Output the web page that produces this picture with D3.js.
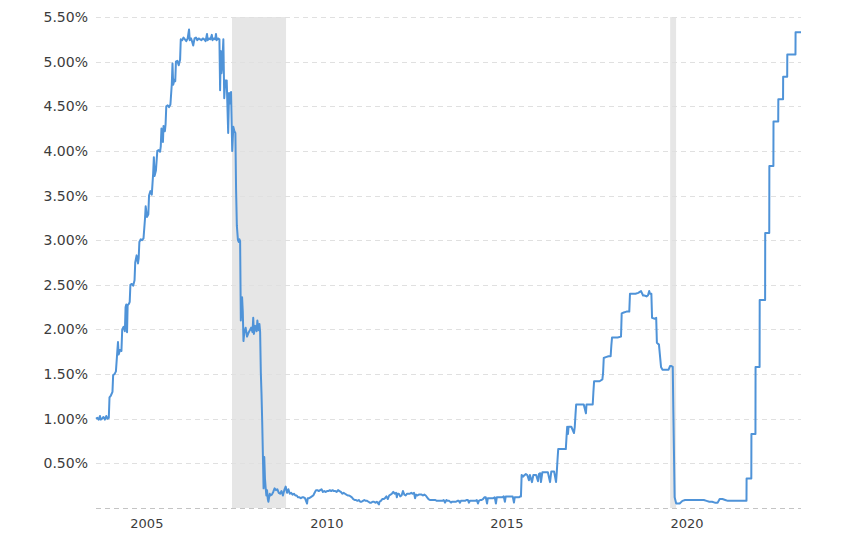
<!DOCTYPE html>
<html lang="en">
<head>
<meta charset="UTF-8">
<title>Federal Funds Rate - 20 Year Chart</title>
<script src="https://d3js.org/d3.v7.min.js"></script>
<style>
  body { margin: 0; background: #fff; }
  svg { display: block; font-family: "DejaVu Sans", Verdana, sans-serif; }
  .grid line { stroke: #e0e0e0; stroke-width: 1; stroke-dasharray: 5,4; }
  .grid line.zero { stroke: #c4c4c4; }
  .axis text { fill: #3c3c3c; }
  .recession { fill: #e6e6e6; }
  .rate-line { fill: none; stroke: #4f93d8; stroke-width: 2; stroke-linejoin: round; }
</style>
</head>
<body>
<svg id="chart" width="850" height="536"></svg>
<script>
// effective fed funds rate (%), split by era
const rates2004to2008 = [
  ["2004-02-20",1.00],["2004-03-04",1.01],["2004-03-18",0.99],["2004-03-31",1.03],["2004-04-08",0.99],
  ["2004-04-22",1.00],["2004-05-06",1.02],["2004-05-20",0.99],["2004-06-03",1.03],["2004-06-17",1.00],
  ["2004-06-29",1.01],["2004-07-06",1.24],["2004-07-20",1.26],["2004-08-05",1.30],["2004-08-12",1.49],
  ["2004-08-26",1.50],["2004-09-09",1.53],["2004-09-23",1.75],["2004-09-30",1.86],["2004-10-07",1.72],
  ["2004-10-21",1.77],["2004-11-04",1.76],["2004-11-12",2.00],["2004-11-26",2.03],["2004-12-09",1.98],
  ["2004-12-16",2.25],["2004-12-23",2.28],["2004-12-31",1.97],["2005-01-06",2.27],["2005-01-20",2.29],
  ["2005-01-27",2.31],["2005-02-03",2.50],["2005-02-17",2.51],["2005-03-03",2.49],["2005-03-17",2.55],
  ["2005-03-24",2.75],["2005-04-07",2.83],["2005-04-21",2.74],["2005-04-28",2.80],["2005-05-05",2.98],
  ["2005-05-19",3.01],["2005-06-02",3.00],["2005-06-16",3.02],["2005-07-01",3.24],["2005-07-08",3.38],
  ["2005-07-21",3.26],["2005-08-04",3.29],["2005-08-11",3.50],["2005-08-25",3.55],["2005-09-08",3.51],
  ["2005-09-22",3.75],["2005-09-29",3.93],["2005-10-06",3.72],["2005-10-20",3.78],["2005-11-03",4.00],
  ["2005-11-17",4.01],["2005-12-01",3.99],["2005-12-08",4.05],["2005-12-15",4.25],["2005-12-30",4.10],
  ["2006-01-05",4.28],["2006-01-19",4.22],["2006-01-26",4.30],["2006-02-02",4.50],["2006-02-16",4.51],
  ["2006-03-02",4.49],["2006-03-16",4.52],["2006-03-30",4.75],["2006-04-06",4.98],["2006-04-13",4.74],
  ["2006-04-27",4.80],["2006-05-04",4.78],["2006-05-11",5.00],["2006-05-25",5.01],["2006-06-08",4.96],
  ["2006-06-22",5.02],["2006-06-29",5.25],["2006-07-13",5.24],["2006-07-27",5.27],["2006-08-10",5.25],
  ["2006-08-24",5.23],["2006-09-07",5.26],["2006-09-21",5.36],["2006-09-28",5.24],["2006-10-12",5.26],
  ["2006-10-26",5.21],["2006-11-02",5.18],["2006-11-16",5.26],["2006-11-30",5.27],["2006-12-14",5.24],
  ["2006-12-28",5.26],["2007-01-11",5.25],["2007-01-25",5.24],["2007-02-08",5.26],["2007-02-22",5.25],
  ["2007-03-08",5.23],["2007-03-22",5.31],["2007-03-29",5.24],["2007-04-12",5.26],["2007-04-26",5.25],
  ["2007-05-10",5.30],["2007-05-17",5.24],["2007-05-31",5.26],["2007-06-14",5.25],["2007-06-21",5.31],
  ["2007-06-28",5.24],["2007-07-12",5.26],["2007-07-26",5.25],["2007-08-02",4.68],["2007-08-09",5.12],
  ["2007-08-16",4.87],["2007-08-23",4.95],["2007-09-04",5.25],["2007-09-13",4.59],["2007-09-24",4.79],
  ["2007-10-08",4.79],["2007-10-23",4.20],["2007-11-01",4.65],["2007-11-10",4.53],["2007-11-21",4.66],
  ["2007-12-03",4.00],["2007-12-14",4.27],["2007-12-25",4.22],["2008-01-04",4.20],["2008-01-11",3.57],
  ["2008-01-19",3.16],["2008-01-30",3.00],["2008-02-07",2.98],["2008-02-14",3.01],["2008-02-21",2.99],
  ["2008-02-28",2.10],["2008-03-05",2.28],["2008-03-12",2.36],["2008-03-19",2.20],["2008-03-26",1.87],
  ["2008-04-03",1.96],["2008-04-17",2.02],["2008-05-01",1.92],["2008-05-15",1.96],["2008-05-29",1.99],
  ["2008-06-12",2.02],["2008-06-26",1.97],["2008-07-03",2.13],["2008-07-10",1.95],["2008-07-24",2.04],
  ["2008-07-31",2.02],["2008-08-07",1.98],["2008-08-14",2.10],["2008-08-21",2.02],["2008-08-28",1.99],
  ["2008-09-04",2.06],["2008-09-11",1.97],["2008-09-18",1.52],["2008-09-25",1.28],["2008-10-02",0.97],
  ["2008-10-09",0.60],["2008-10-16",0.22],["2008-10-23",0.57],["2008-10-30",0.33],["2008-11-06",0.23],
  ["2008-11-13",0.14],["2008-11-20",0.20],["2008-11-28",0.10],["2008-12-04",0.07],["2008-12-11",0.12],
  ["2008-12-18",0.16],["2008-12-24",0.14]
];

const rates2009to2015 = [
  ["2009-01-08",0.15],["2009-01-22",0.18],["2009-02-05",0.22],["2009-02-19",0.20],["2009-03-05",0.21],
  ["2009-03-19",0.17],["2009-04-02",0.16],["2009-04-16",0.19],["2009-04-30",0.14],["2009-05-14",0.20],
  ["2009-05-28",0.24],["2009-06-11",0.17],["2009-06-25",0.21],["2009-07-09",0.16],["2009-07-23",0.17],
  ["2009-08-06",0.15],["2009-08-20",0.16],["2009-09-03",0.14],["2009-09-17",0.14],["2009-10-01",0.12],
  ["2009-10-15",0.12],["2009-10-29",0.11],["2009-11-12",0.12],["2009-11-26",0.12],["2009-12-10",0.11],
  ["2009-12-31",0.05],["2010-01-07",0.11],["2010-01-21",0.11],["2010-02-04",0.12],["2010-02-18",0.13],
  ["2010-03-04",0.14],["2010-03-18",0.17],["2010-04-01",0.20],["2010-04-15",0.20],["2010-04-29",0.19],
  ["2010-05-13",0.20],["2010-05-27",0.21],["2010-06-10",0.18],["2010-06-24",0.19],["2010-07-08",0.18],
  ["2010-07-22",0.19],["2010-08-05",0.19],["2010-08-19",0.20],["2010-09-02",0.19],["2010-09-16",0.20],
  ["2010-09-30",0.19],["2010-10-14",0.19],["2010-10-28",0.18],["2010-11-11",0.20],["2010-11-25",0.19],
  ["2010-12-09",0.18],["2010-12-23",0.16],["2011-01-06",0.17],["2011-01-20",0.16],["2011-02-03",0.15],
  ["2011-02-17",0.14],["2011-03-03",0.14],["2011-03-17",0.13],["2011-03-31",0.12],["2011-04-14",0.10],
  ["2011-04-28",0.09],["2011-05-12",0.09],["2011-05-26",0.08],["2011-06-09",0.09],["2011-06-23",0.07],
  ["2011-07-07",0.07],["2011-07-21",0.08],["2011-08-04",0.09],["2011-08-18",0.08],["2011-09-01",0.08],
  ["2011-09-15",0.07],["2011-09-29",0.06],["2011-10-13",0.06],["2011-10-27",0.07],["2011-11-10",0.07],
  ["2011-11-24",0.06],["2011-12-08",0.07],["2011-12-30",0.04],["2012-01-05",0.07],["2012-01-19",0.08],
  ["2012-02-02",0.10],["2012-02-16",0.10],["2012-03-01",0.11],["2012-03-15",0.13],["2012-03-29",0.10],
  ["2012-04-12",0.14],["2012-04-26",0.15],["2012-05-10",0.16],["2012-05-24",0.18],["2012-06-07",0.16],
  ["2012-06-21",0.17],["2012-06-29",0.12],["2012-07-05",0.16],["2012-07-19",0.16],["2012-08-02",0.13],
  ["2012-08-16",0.14],["2012-08-30",0.19],["2012-09-13",0.15],["2012-09-27",0.14],["2012-10-11",0.16],
  ["2012-10-25",0.16],["2012-11-08",0.16],["2012-11-22",0.17],["2012-12-06",0.16],["2012-12-20",0.17],
  ["2012-12-31",0.11],["2013-01-10",0.15],["2013-01-24",0.14],["2013-02-07",0.15],["2013-02-21",0.15],
  ["2013-03-07",0.15],["2013-03-21",0.14],["2013-04-04",0.15],["2013-04-18",0.14],["2013-05-02",0.12],
  ["2013-05-16",0.10],["2013-05-30",0.09],["2013-06-13",0.09],["2013-06-27",0.09],["2013-07-11",0.09],
  ["2013-07-25",0.09],["2013-08-08",0.08],["2013-08-22",0.08],["2013-09-05",0.08],["2013-09-19",0.08],
  ["2013-10-03",0.08],["2013-10-17",0.09],["2013-10-31",0.06],["2013-11-14",0.09],["2013-11-28",0.08],
  ["2013-12-12",0.08],["2013-12-31",0.06],["2014-01-09",0.07],["2014-01-23",0.07],["2014-02-06",0.07],
  ["2014-02-20",0.07],["2014-03-06",0.08],["2014-03-20",0.08],["2014-03-31",0.06],["2014-04-10",0.08],
  ["2014-04-24",0.08],["2014-05-08",0.08],["2014-05-22",0.08],["2014-06-05",0.09],["2014-06-19",0.09],
  ["2014-06-30",0.06],["2014-07-10",0.08],["2014-07-24",0.08],["2014-08-07",0.08],["2014-08-21",0.08],
  ["2014-09-04",0.08],["2014-09-18",0.09],["2014-09-30",0.05],["2014-10-09",0.08],["2014-10-23",0.09],
  ["2014-11-06",0.09],["2014-11-20",0.10],["2014-12-04",0.12],["2014-12-18",0.12],["2014-12-31",0.05],
  ["2015-01-08",0.11],["2015-01-22",0.11],["2015-02-05",0.11],["2015-02-19",0.11],["2015-03-05",0.11],
  ["2015-03-19",0.12],["2015-03-31",0.05],["2015-04-09",0.12],["2015-04-23",0.12],["2015-05-07",0.12],
  ["2015-05-21",0.12],["2015-06-04",0.12],["2015-06-18",0.13],["2015-06-30",0.07],["2015-07-09",0.13],
  ["2015-07-23",0.13],["2015-08-06",0.13],["2015-08-20",0.13],["2015-09-03",0.13],["2015-09-17",0.13],
  ["2015-09-30",0.06],["2015-10-08",0.12],["2015-10-22",0.12],["2015-11-05",0.12],["2015-11-19",0.12],
  ["2015-12-03",0.13],["2015-12-10",0.13]
];

const rates2016to2023 = [
  ["2015-12-17",0.37],["2015-12-31",0.35],["2016-01-07",0.36],["2016-01-29",0.38],["2016-02-12",0.37],
  ["2016-02-29",0.31],["2016-03-10",0.37],["2016-03-31",0.29],["2016-04-14",0.37],["2016-04-28",0.37],
  ["2016-05-12",0.37],["2016-05-31",0.30],["2016-06-09",0.38],["2016-06-23",0.39],["2016-06-30",0.29],
  ["2016-07-14",0.40],["2016-07-28",0.40],["2016-08-11",0.40],["2016-08-25",0.40],["2016-09-08",0.40],
  ["2016-09-30",0.29],["2016-10-13",0.41],["2016-10-27",0.41],["2016-11-10",0.41],["2016-11-30",0.29],
  ["2016-12-08",0.41],["2016-12-15",0.54],["2016-12-22",0.66],["2017-01-12",0.66],["2017-02-02",0.66],
  ["2017-02-23",0.66],["2017-03-09",0.66],["2017-03-16",0.79],["2017-03-23",0.91],["2017-03-31",0.83],
  ["2017-04-06",0.91],["2017-05-04",0.91],["2017-05-31",0.84],["2017-06-08",0.91],["2017-06-15",1.04],
  ["2017-06-22",1.16],["2017-07-13",1.16],["2017-08-10",1.16],["2017-09-07",1.16],["2017-09-29",1.06],
  ["2017-10-05",1.16],["2017-11-09",1.16],["2017-11-30",1.16],["2017-12-07",1.16],["2017-12-14",1.30],
  ["2017-12-21",1.42],["2018-01-11",1.42],["2018-02-15",1.42],["2018-03-15",1.44],["2018-03-22",1.51],
  ["2018-03-29",1.68],["2018-04-19",1.69],["2018-05-17",1.70],["2018-06-07",1.70],["2018-06-14",1.82],
  ["2018-06-21",1.91],["2018-07-19",1.91],["2018-08-16",1.91],["2018-09-20",1.92],["2018-09-27",2.18],
  ["2018-10-18",2.19],["2018-11-15",2.20],["2018-12-13",2.20],["2018-12-20",2.40],["2019-01-17",2.40],
  ["2019-02-14",2.40],["2019-03-14",2.41],["2019-04-11",2.43],["2019-05-02",2.38],["2019-05-16",2.38],
  ["2019-06-06",2.37],["2019-06-20",2.38],["2019-07-03",2.43],["2019-07-11",2.40],["2019-07-25",2.40],
  ["2019-08-01",2.13],["2019-08-29",2.12],["2019-09-12",2.13],["2019-09-19",1.85],["2019-10-10",1.83],
  ["2019-10-31",1.58],["2019-11-14",1.55],["2019-12-12",1.55],["2020-01-16",1.55],["2020-01-30",1.59],
  ["2020-02-13",1.59],["2020-02-27",1.58],["2020-03-04",1.09],["2020-03-17",0.12],["2020-04-02",0.05],
  ["2020-04-16",0.05],["2020-05-07",0.05],["2020-06-04",0.08],["2020-07-02",0.09],["2020-08-06",0.09],
  ["2020-09-03",0.09],["2020-10-01",0.09],["2020-11-05",0.09],["2020-12-03",0.09],["2021-01-07",0.09],
  ["2021-02-04",0.08],["2021-03-04",0.07],["2021-04-01",0.07],["2021-04-29",0.06],["2021-05-27",0.06],
  ["2021-06-17",0.10],["2021-07-15",0.10],["2021-08-12",0.09],["2021-09-09",0.08],["2021-10-07",0.08],
  ["2021-11-04",0.08],["2021-12-02",0.08],["2022-01-06",0.08],["2022-02-03",0.08],["2022-03-16",0.08],
  ["2022-03-17",0.33],["2022-05-04",0.33],["2022-05-05",0.83],["2022-06-15",0.83],["2022-06-16",1.58],
  ["2022-07-27",1.58],["2022-07-28",2.33],["2022-09-21",2.33],["2022-09-22",3.08],["2022-11-02",3.08],
  ["2022-11-03",3.83],["2022-12-14",3.83],["2022-12-15",4.33],["2023-02-01",4.33],["2023-02-02",4.58],
  ["2023-03-22",4.58],["2023-03-23",4.83],["2023-05-03",4.83],["2023-05-04",5.08],["2023-07-26",5.08],
  ["2023-07-27",5.33],["2023-09-20",5.33]
];

// recession periods (shaded)
const recessions = [
  ["2007-12-01", "2009-06-01"],
  ["2020-02-01", "2020-04-01"]
];

const yTickValues = [0, 0.5, 1, 1.5, 2, 2.5, 3, 3.5, 4, 4.5, 5, 5.5];
const xTickYears = [2005, 2010, 2015, 2020];

const width = 850, height = 536;
const margin = { top: 17, right: 49, bottom: 28, left: 96 };

const parse = d3.timeParse("%Y-%m-%d");
const data = rates2004to2008.concat(rates2009to2015, rates2016to2023)
  .map(d => ({ date: parse(d[0]), value: d[1] }));

const svg = d3.select("#chart");

const x = d3.scaleTime()
  .domain([parse("2004-02-20"), parse("2023-09-20")])
  .range([margin.left, width - margin.right]);

const y = d3.scaleLinear()
  .domain([0, 5.5])
  .range([height - margin.bottom, margin.top]);

// recession shading
svg.append("g")
  .selectAll("rect")
  .data(recessions)
  .join("rect")
  .attr("class", "recession")
  .attr("x", d => x(parse(d[0])))
  .attr("width", d => x(parse(d[1])) - x(parse(d[0])))
  .attr("y", y(5.5))
  .attr("height", y(0) - y(5.5));

// dashed horizontal grid
svg.append("g")
  .attr("class", "grid")
  .selectAll("line")
  .data(yTickValues)
  .join("line")
  .attr("class", d => d === 0 ? "zero" : null)
  .attr("x1", margin.left)
  .attr("x2", width - margin.right)
  .attr("y1", d => Math.round(y(d)) + 0.5)
  .attr("y2", d => Math.round(y(d)) + 0.5);

// y axis labels (0 has none)
const yAxis = svg.append("g")
  .attr("class", "axis")
  .attr("transform", `translate(${margin.left},0)`)
  .call(d3.axisLeft(y)
    .tickValues(yTickValues.filter(v => v > 0))
    .tickFormat(v => d3.format(".2f")(v) + "%")
    .tickSize(0)
    .tickPadding(8));
yAxis.select(".domain").remove();
yAxis.selectAll("text").attr("font-size", 14).attr("font-family", "DejaVu Sans, Verdana, sans-serif");

// x axis: year labels sit in the middle of the year
const xAxis = svg.append("g")
  .attr("class", "axis")
  .attr("transform", `translate(0,${height - margin.bottom})`)
  .call(d3.axisBottom(x)
    .tickValues(xTickYears.map(yr => new Date(yr, 6, 15)))
    .tickFormat(d3.timeFormat("%Y"))
    .tickSize(0)
    .tickPadding(11));
xAxis.select(".domain").remove();
xAxis.selectAll("text").attr("font-size", 13).attr("font-family", "DejaVu Sans, Verdana, sans-serif");

// rate line
const line = d3.line()
  .x(d => x(d.date))
  .y(d => y(d.value));

svg.append("path")
  .datum(data)
  .attr("class", "rate-line")
  .attr("d", line);
</script>
</body>
</html>
